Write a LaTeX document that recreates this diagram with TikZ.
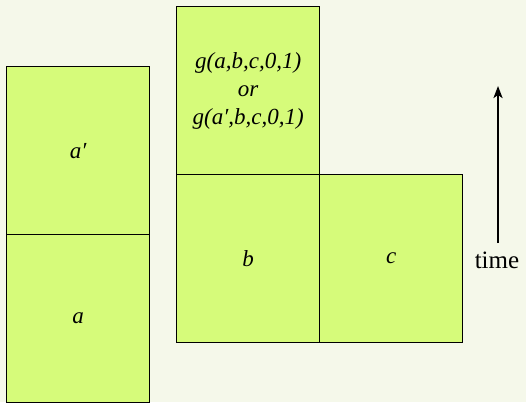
\documentclass[tikz,border=0pt]{standalone}
\usepackage{fontspec}
\setmainfont{Liberation Serif}
\usetikzlibrary{arrows.meta}
\definecolor{bg}{HTML}{F5F8EA}
\definecolor{boxfill}{HTML}{D6FB7A}
\tikzset{
  cell/.style={draw=black, line width=1.3pt, fill=boxfill, minimum width=143pt, minimum height=168pt, inner sep=0pt, anchor=north west, align=center, font=\fontsize{23}{28}\selectfont\itshape},
  timearrow/.style={-{Stealth[length=12pt,width=9pt,inset=3pt]}, line width=2.6pt}
}
\begin{document}
\begin{tikzpicture}[x=1pt,y=-1pt]
\fill[bg] (0,0) rectangle (526,402);
\useasboundingbox (0,0) rectangle (526,402);
\begin{scope}
\clip (0,0) rectangle (526,402);
\node[cell] (ap) at (6,66) {a′};
\node[cell] (a) at (6,234) {a};
\end{scope}
\node[cell] (g) at (176,6) {\raisebox{-4pt}{\begin{tabular}{@{}c@{}}g(a,b,c,0,1)\\or\\g(a′,b,c,0,1)\end{tabular}}};
\node[cell] (b) at (176,174) {b};
\node[cell] (c) at (319,174) {c};
\coordinate (t0) at (498,243);
\coordinate (t1) at (498,86);
\draw[timearrow] (t0) -- (t1);
\node[font=\fontsize{25}{28}\selectfont, anchor=north] (time) at (497,248) {time};
\end{tikzpicture}
\end{document}
